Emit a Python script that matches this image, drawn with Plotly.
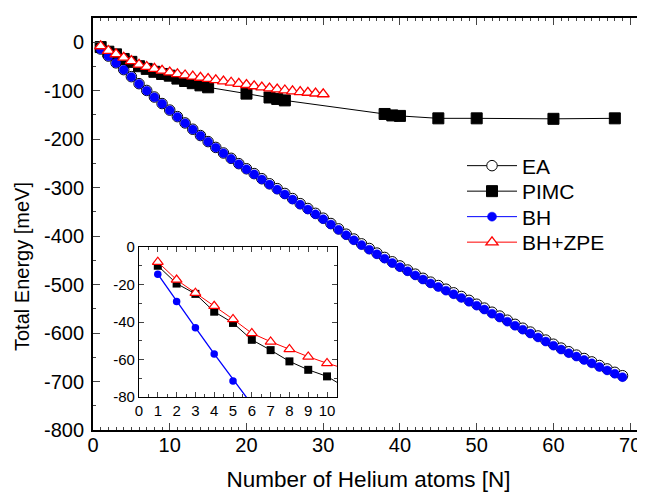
import plotly.graph_objects as go

# ---------------- data ----------------
N_all = list(range(1, 70))
bh = [-14.5, -29, -43, -57, -71.5, -86, -100, -113.5, -127, -140.5,
      -154, -167, -180, -193, -205.5, -217.5, -229, -240.5, -251.5, -262,
      -272.5, -283, -293.5, -304, -314, -324.5, -335, -345, -355, -365,
      -376, -387, -398, -408.5, -418.5, -428, -437.5, -446.5, -455.5, -464,
      -472.5, -481, -489.5, -497.5, -505, -512.5, -520, -527.5, -535.5, -543.5,
      -551.5, -560, -568, -576.5, -585, -593, -601, -609, -617.5, -626,
      -634, -641.5, -648.5, -655.5, -662.5, -670, -677, -684, -691]
ea = [-14, -28.5, -42.5, -56.5, -71, -85.5, -99.5, -113, -126.5, -140,
      -153.5, -166.5, -179.5, -192.5, -205, -217, -228.5, -239.5, -250.5, -261,
      -271, -281.5, -292, -302, -312, -322.5, -333, -343, -353, -363,
      -374, -385, -396, -406, -416, -425.5, -435, -444, -453, -461.5,
      -470, -478.5, -487, -495, -502, -509.5, -517, -524.5, -532.5, -540.5,
      -548.5, -557, -565, -573.5, -582, -590, -598, -606, -614.5, -623,
      -631, -638.5, -645.5, -652.5, -659.5, -667, -674, -681, -688]

N_pimc = [1, 2, 3, 4, 5, 6, 7, 8, 9, 10, 11, 12, 13, 14, 15, 20, 23, 24, 25,
          38, 39, 40, 45, 50, 60, 68]
pimc = [-10, -19.5, -25, -34.5, -40.5, -49.5, -55, -61, -65.5, -69,
        -75, -80, -84.5, -89, -93, -106, -114, -117, -120,
        -148, -151, -152, -157, -157, -158, -157]

N_zpe = list(range(1, 31))
zpe = [-8, -17.5, -24.5, -31.5, -38.5, -46, -50.5, -54.5, -58.5, -62,
       -65.5, -68, -70.5, -73, -75.5, -78, -80.5, -83, -85.5, -88,
       -90.5, -93, -95, -97, -99, -101, -102.5, -104, -105.5, -107]

main_xticks = [0, 10, 20, 30, 40, 50, 60, 70]
main_yticks = [0, -100, -200, -300, -400, -500, -600, -700, -800]
main_ylabels = ["0", "-100", "-200", "-300", "-400", "-500", "-600", "-700", "-800"]
inset_xticks = list(range(0, 11))
inset_yticks = [0, -20, -40, -60, -80]
inset_ylabels = ["0", "-20", "-40", "-60", "-80"]

BLUE = "rgb(0,0,255)"
RED = "rgb(255,0,0)"
FONT = "Arial, Liberation Sans, sans-serif"

fig = go.Figure()

# main traces (each with its own legend box so the spacing can match)
fig.add_trace(go.Scatter(x=N_all, y=ea, name="EA", mode="lines+markers",
                         legend="legend",
                         line=dict(color="black", width=1),
                         marker=dict(symbol="circle", size=10.5, color="white",
                                     line=dict(color="black", width=1))))
fig.add_trace(go.Scatter(x=N_pimc, y=pimc, name="PIMC", mode="lines+markers",
                         legend="legend2",
                         line=dict(color="black", width=1),
                         marker=dict(symbol="square", size=11, color="black",
                                     line=dict(color="black", width=1))))
fig.add_trace(go.Scatter(x=N_all, y=bh, name="BH", mode="lines+markers",
                         legend="legend3",
                         line=dict(color=BLUE, width=1),
                         marker=dict(symbol="circle", size=9, color=BLUE,
                                     line=dict(color=BLUE, width=0.5))))
fig.add_trace(go.Scatter(x=N_zpe, y=zpe, name="BH+ZPE", mode="lines+markers",
                         legend="legend4",
                         line=dict(color=RED, width=1),
                         marker=dict(symbol="triangle-up", size=10.5, color="white",
                                     line=dict(color=RED, width=1.3))))

# inset traces
fig.add_trace(go.Scatter(x=N_pimc, y=pimc, mode="lines+markers", showlegend=False,
                         xaxis="x2", yaxis="y2",
                         line=dict(color="black", width=1),
                         marker=dict(symbol="square", size=8, color="black")))
fig.add_trace(go.Scatter(x=N_all, y=bh, mode="lines+markers", showlegend=False,
                         xaxis="x2", yaxis="y2",
                         line=dict(color=BLUE, width=1.3),
                         marker=dict(symbol="circle", size=7.5, color=BLUE)))
fig.add_trace(go.Scatter(x=N_zpe, y=zpe, mode="lines+markers", showlegend=False,
                         xaxis="x2", yaxis="y2",
                         line=dict(color=RED, width=1),
                         marker=dict(symbol="triangle-up", size=9.5, color="white",
                                     line=dict(color=RED, width=1.2))))

# the page body adds an 8 px margin; the figure is sized to fill the window after it
OFF = 8
W, H = 645 - OFF, 493 - OFF
L, R, T, B = 93 - OFF, 1, 18 - OFF, 493 - 430
pw, ph = W - L - R, H - T - B

def px_x(p):
    return (p - OFF - L) / pw

def px_y(p):
    return (H - B - (p - OFF)) / ph

def leg(yc):
    return dict(x=px_x(462), y=px_y(yc), xanchor="left", yanchor="middle",
                bgcolor="rgba(0,0,0,0)", borderwidth=0,
                font=dict(size=21, family=FONT, color="black"), itemwidth=50)

fig.update_layout(
    width=W, height=H,
    margin=dict(l=L, r=R, t=T, b=B, autoexpand=False),
    paper_bgcolor="white", plot_bgcolor="white",
    font=dict(family=FONT, color="black", size=20),
    showlegend=True,
    legend=leg(166), legend2=leg(191.5), legend3=leg(217), legend4=leg(242.5),
    xaxis=dict(range=[0, 71.8], tickvals=main_xticks, ticks="inside", ticklen=7,
               tickwidth=1.3, showline=True, linecolor="black", linewidth=1.8,
               mirror="ticks", showgrid=False, zeroline=False, automargin=False,
               minor=dict(dtick=1, ticks="inside", ticklen=3.5, tickwidth=1, tick0=0),
               tickfont=dict(size=20), ticklabelstandoff=-4,
               title=dict(text="Number of Helium atoms [N]", font=dict(size=22.5), standoff=16)),
    yaxis=dict(range=[-800, 50], tickvals=main_yticks, ticktext=main_ylabels,
               ticks="inside", ticklen=7,
               tickwidth=1.3, showline=True, linecolor="black", linewidth=1.8,
               mirror="ticks", showgrid=False, zeroline=False, automargin=False,
               minor=dict(dtick=50, ticks="inside", ticklen=3.5, tickwidth=1, tick0=0),
               tickfont=dict(size=20), ticklabelstandoff=3),
    xaxis2=dict(domain=[px_x(139), px_x(337)], anchor="y2", range=[0, 10.53],
                tickvals=inset_xticks, ticks="inside", ticklen=5, tickwidth=1,
                showline=True, linecolor="black", linewidth=1.3, mirror="ticks",
                showgrid=False, zeroline=False, automargin=False,
                minor=dict(dtick=0.5, ticks="inside", ticklen=3, tick0=0),
                tickfont=dict(size=15)),
    yaxis2=dict(domain=[px_y(397), px_y(247)], anchor="x2", range=[-80, 0],
                tickvals=inset_yticks, ticktext=inset_ylabels,
                ticks="inside", ticklen=5, tickwidth=1,
                showline=True, linecolor="black", linewidth=1.3, mirror="ticks",
                showgrid=False, zeroline=False, automargin=False,
                minor=dict(dtick=10, ticks="inside", ticklen=3, tick0=0),
                tickfont=dict(size=15)),
    annotations=[dict(text="Total Energy [meV]", textangle=-90, showarrow=False,
                      xref="paper", yref="paper", x=px_x(22), y=px_y(267),
                      xanchor="center", yanchor="middle",
                      font=dict(size=20, family=FONT, color="black"))],
)

fig.write_html("out.html")
